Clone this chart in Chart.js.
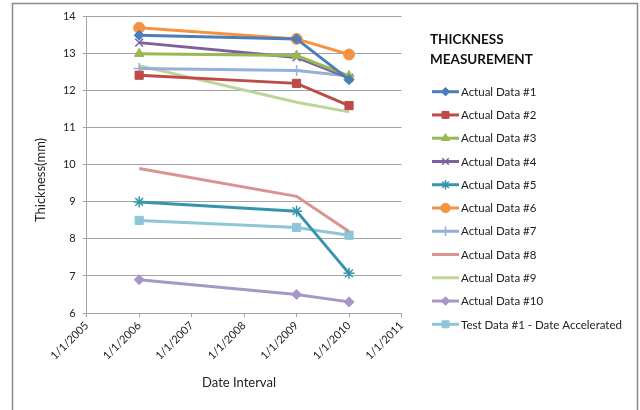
<!DOCTYPE html>
<html>
<head>
<meta charset="utf-8">
<script src="https://cdn.jsdelivr.net/npm/chart.js@4.4.1/dist/chart.umd.min.js"></script>
<style>
  html, body { margin: 0; padding: 0; background: #fff; }
  canvas { display: block; }
</style>
</head>
<body>
<canvas id="c" width="640" height="410"></canvas>
<script>
// Measurement dates (year of each 1 January reading)
const dates = [2006, 2009, 2010];
const xTickYears = [2005, 2006, 2007, 2008, 2009, 2010, 2011];
const yTicks = [6, 7, 8, 9, 10, 11, 12, 13, 14];

const seriesNames = [
  'Actual Data #1', 'Actual Data #2', 'Actual Data #3', 'Actual Data #4',
  'Actual Data #5', 'Actual Data #6', 'Actual Data #7', 'Actual Data #8',
  'Actual Data #9', 'Actual Data #10', 'Test Data #1 - Date Accelerated'
];

// Thickness readings (mm)
const actual1  = [13.5, 13.4, 12.3];
const actual2  = [12.42, 12.2, 11.6];
const actual3  = [13.0, 12.95, 12.4];
const actual4  = [13.3, 12.9, 12.35];
const actual5  = [9.0, 8.75, 7.07];
const actual6  = [13.7, 13.4, 12.98];
const actual7  = [12.6, 12.55, 12.4];
const actual8  = [9.9, 9.15, 8.2];
const actual9  = [12.68, 11.69, 11.43];
const actual10 = [6.9, 6.5, 6.3];
const test1    = [8.5, 8.31, 8.1];

const seriesValues = [actual1, actual2, actual3, actual4, actual5, actual6,
                      actual7, actual8, actual9, actual10, test1];

const seriesColors = ['#4A7EBB', '#BE4B48', '#98B954', '#7D60A0', '#3794AD', '#F69240',
                      '#95AFDA', '#DA9390', '#BDD49A', '#A797C6', '#8EC6D8'];
const seriesMarkers = ['rectRot', 'rect', 'triangle', 'crossRot', 'star', 'circle',
                       'cross', false, false, 'rectRot', 'rect'];
const markerRadius = [5, 5.8, 5.5, 5.5, 5.5, 5.5, 5.5, 0, 0, 5, 5.8];

const FONT = 'Lato, "Open Sans", sans-serif';
const GRID = '#A3A3A3';

const datasets = seriesNames.map((name, i) => {
  const stroked = ['crossRot', 'star', 'cross'].includes(seriesMarkers[i]);
  return {
    label: name,
    data: dates.map((d, k) => ({ x: d, y: seriesValues[i][k] })),
    borderColor: seriesColors[i],
    backgroundColor: seriesColors[i],
    borderWidth: 3,
    pointStyle: seriesMarkers[i] || 'circle',
    pointRadius: markerRadius[i],
    pointHoverRadius: markerRadius[i],
    pointBackgroundColor: seriesColors[i],
    pointBorderColor: seriesColors[i],
    pointBorderWidth: stroked ? 1.5 : 1,
    tension: 0,
    fill: false
  };
});

// Outer frame, axis titles and the legend panel on the right
const decorations = {
  id: 'decorations',
  beforeDraw(chart) {
    const ctx = chart.ctx;
    ctx.save();
    ctx.fillStyle = '#fff';
    ctx.fillRect(0, 0, chart.width, chart.height);
    ctx.strokeStyle = '#8A8A8A';
    ctx.lineWidth = 1.5;
    ctx.strokeRect(12.5, 3.5, 625, 440);
    ctx.restore();
  },
  afterDraw(chart) {
    const ctx = chart.ctx;
    ctx.save();
    ctx.fillStyle = '#222';
    // axis titles
    ctx.font = '13px ' + FONT;
    ctx.textAlign = 'center';
    ctx.textBaseline = 'middle';
    ctx.fillText('Date Interval', 239, 383);
    ctx.save();
    ctx.translate(41, 180);
    ctx.rotate(-Math.PI / 2);
    ctx.fillText('Thickness(mm)', 0, 0);
    ctx.restore();

    // legend title
    ctx.textAlign = 'left';
    ctx.font = 'bold 13.5px ' + FONT;
    ctx.fillStyle = '#111';
    ctx.fillText('THICKNESS', 430, 40);
    ctx.fillText('MEASUREMENT', 430, 59.5);

    // legend entries
    ctx.font = '11.5px ' + FONT;
    chart.data.datasets.forEach((ds, i) => {
      const y = 91.7 + i * 23.26;
      ctx.strokeStyle = ds.borderColor;
      ctx.lineWidth = 3;
      ctx.beginPath();
      ctx.moveTo(432, y);
      ctx.lineTo(459, y);
      ctx.stroke();
      if (ds.pointRadius > 0) {
        ctx.fillStyle = ds.pointBackgroundColor;
        ctx.strokeStyle = ds.pointBorderColor;
        ctx.lineWidth = ds.pointBorderWidth;
        Chart.helpers.drawPoint(ctx, {
          pointStyle: ds.pointStyle,
          radius: ds.pointRadius * 0.85,
          rotation: 0,
          borderWidth: ds.pointBorderWidth
        }, 445.5, y);
      }
      ctx.fillStyle = '#222';
      ctx.fillText(ds.label, 461, y + 0.5);
    });
    ctx.restore();
  }
};

new Chart(document.getElementById('c'), {
  type: 'line',
  data: { datasets },
  options: {
    responsive: false,
    animation: false,
    events: [],
    layout: { padding: { left: 12, top: 16.7, right: 238.5, bottom: 10 } },
    plugins: { legend: { display: false }, tooltip: { enabled: false } },
    scales: {
      x: {
        type: 'linear',
        min: xTickYears[0],
        max: xTickYears[xTickYears.length - 1],
        afterBuildTicks(scale) { scale.ticks = xTickYears.map(v => ({ value: v })); },
        afterFit(scale) { scale.height = 87; },
        ticks: {
          callback: v => '1/1/' + v,
          minRotation: 45,
          maxRotation: 45,
          padding: 2,
          color: '#222',
          font: { family: FONT, size: 11 }
        },
        grid: { drawOnChartArea: false, drawTicks: true, tickLength: 4, color: GRID },
        border: { color: GRID, width: 1 }
      },
      y: {
        type: 'linear',
        min: yTicks[0],
        max: yTicks[yTicks.length - 1],
        afterBuildTicks(scale) { scale.ticks = yTicks.map(v => ({ value: v })); },
        afterFit(scale) { scale.width = 74.7; },
        ticks: {
          padding: 7,
          color: '#222',
          font: { family: FONT, size: 11 }
        },
        grid: { color: GRID, tickLength: 4, lineWidth: 1 },
        border: { color: GRID, width: 1 }
      }
    }
  },
  plugins: [decorations]
});
</script>
</body>
</html>
